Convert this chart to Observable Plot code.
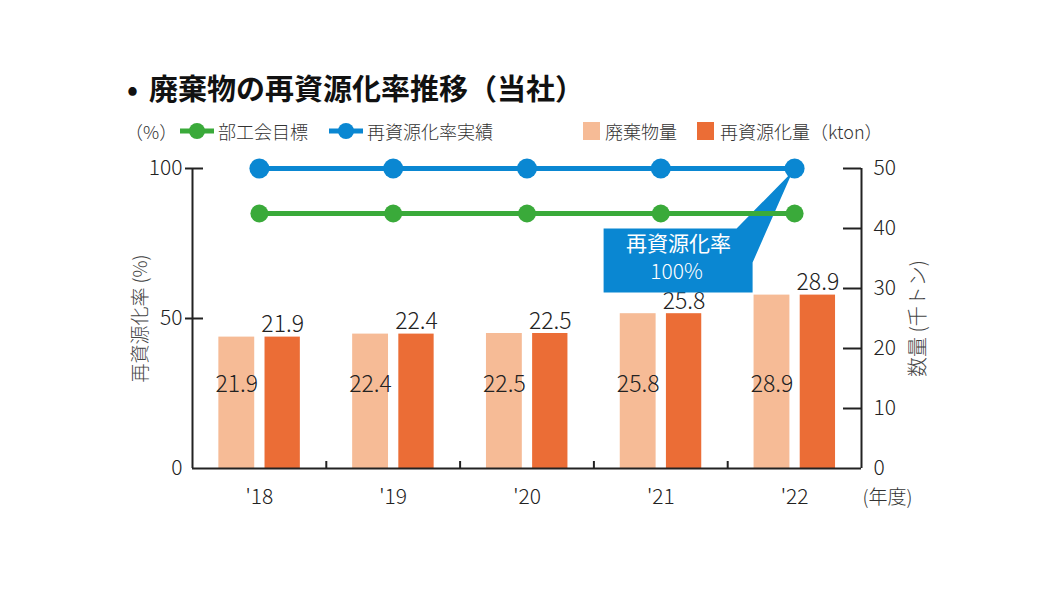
<!DOCTYPE html>
<html><head><meta charset="utf-8">
<script src="https://cdn.jsdelivr.net/npm/d3@7"></script>
<script src="https://cdn.jsdelivr.net/npm/@observablehq/plot@0.6"></script>
<style>
body{margin:0;background:#fff;font-family:"Noto Sans CJK JP","Noto Sans",sans-serif;}
#wrap{position:relative;width:1050px;height:590px;overflow:hidden;background:#fff;}
.abs{position:absolute;white-space:nowrap;line-height:1;}
.lg{font-size:18px;color:#333;top:122px;font-weight:300;}
#chart{position:absolute;left:0;top:150px;}
</style></head><body>
<div id="wrap">
  <div class="abs" style="left:127px;top:73px;font-size:29px;font-weight:700;color:#111;">•</div>
  <div class="abs" id="title" style="left:149px;top:73px;font-size:29px;font-weight:700;color:#111;"></div>
  <div id="legend"></div>
  <div id="chart"></div>
</div>
<script>
// ---- data ----
const titleText = "廃棄物の再資源化率推移（当社）";
const years = [2018, 2019, 2020, 2021, 2022];
const yearLabels = ["'18", "'19", "'20", "'21", "'22"];
const wasteAmount = [21.9, 22.4, 22.5, 25.8, 28.9];      // 廃棄物量 (kton)
const recycledAmount = [21.9, 22.4, 22.5, 25.8, 28.9];   // 再資源化量 (kton)
const recycleRate = [100, 100, 100, 100, 100];           // 再資源化率実績 (%)
const targetRate = [85, 85, 85, 85, 85];                 // 部工会目標 (%)
const leftTicks = [0, 50, 100];
const rightTicks = [0, 10, 20, 30, 40, 50];
const seriesNames = ["部工会目標", "再資源化率実績", "廃棄物量", "再資源化量（kton）"];
const leftTitle = "再資源化率 (%)";
const rightTitle = "数量 (千トン)";
const unitLabel = "(年度)";
const calloutTitle = "再資源化率";

// ---- colors ----
const GREEN = "#3aaa3a", BLUE = "#0a87d2", LIGHT = "#f6bb96", DARK = "#eb6d36", INK = "#222";
const LIGHTW = 300;

document.getElementById("title").textContent = titleText;

// legend (HTML)
const lg = document.getElementById("legend");
function addText(left, txt){ const d=document.createElement("div"); d.className="abs lg"; d.style.left=left+"px"; d.textContent=txt; lg.appendChild(d); }
function addLineIcon(left, color){
  const s=document.createElementNS("http://www.w3.org/2000/svg","svg");
  s.setAttribute("width",34); s.setAttribute("height",20);
  s.style.position="absolute"; s.style.left=left+"px"; s.style.top="121px";
  s.innerHTML=`<line x1="0" x2="34" y1="10" y2="10" stroke="${color}" stroke-width="5"/><circle cx="17" cy="10" r="8" fill="${color}"/>`;
  lg.appendChild(s);
}
function addSwatch(left, color){ const d=document.createElement("div"); d.className="abs"; Object.assign(d.style,{left:left+"px",top:"122px",width:"17px",height:"18px",background:color}); lg.appendChild(d); }
addText(125, "（%）");
addLineIcon(180, GREEN); addText(218, seriesNames[0]);
addLineIcon(329, BLUE); addText(367, seriesNames[1]);
addSwatch(583, LIGHT); addText(605, seriesNames[2]);
addSwatch(697, DARK); addText(720, seriesNames[3]);

// ---- chart ----
const k = leftTicks[leftTicks.length-1] / rightTicks[rightTicks.length-1]; // kton -> % scale
const x0 = years[0] - 0.5, x1 = years[years.length-1] + 0.5;
const idx = years.map((_, i) => i);
const last = years.length - 1;

const calloutSymbol = {
  draw(ctx){
    ctx.moveTo(-191, 60); ctx.lineTo(-58, 60); ctx.lineTo(-2, 3);
    ctx.lineTo(-42, 94); ctx.lineTo(-42, 124); ctx.lineTo(-191, 124); ctx.closePath();
  }
};

const chart = Plot.plot({
  width: 1050, height: 440,
  marginLeft: 192, marginRight: 189, marginTop: 18, marginBottom: 122,
  x: {domain: [x0, x1], axis: null},
  y: {domain: [0, 100], axis: null},
  style: {fontFamily: '"Noto Sans CJK JP","Noto Sans",sans-serif', fontSize: "20px", color: INK, background: "transparent", overflow: "visible"},
  marks: [
    Plot.rect(idx, {x1: i => years[i] - 0.303, x2: i => years[i] - 0.035, y1: () => 0, y2: i => wasteAmount[i] * k, fill: LIGHT}),
    Plot.rect(idx, {x1: i => years[i] + 0.042, x2: i => years[i] + 0.306, y1: () => 0, y2: i => recycledAmount[i] * k, fill: DARK}),
    Plot.text(idx, {x: i => years[i] - 0.169, y: () => 0, dy: -84, text: i => wasteAmount[i].toFixed(1), fontSize: 23, fontWeight: LIGHTW, fill: INK}),
    Plot.text(idx, {x: i => years[i] + 0.174, y: i => recycledAmount[i] * k, dy: -12, text: i => recycledAmount[i].toFixed(1), fontSize: 23, fontWeight: LIGHTW, fill: INK}),
    // axes lines
    Plot.ruleY([0], {y: d => d, stroke: INK, strokeWidth: 2}),
    Plot.ruleX([x0, x1], {x: d => d, y1: () => 0, y2: () => 100, stroke: INK, strokeWidth: 2}),
    Plot.ruleY(leftTicks.slice(1), {y: d => d, insetLeft: -7, insetRight: 658, stroke: INK, strokeWidth: 2}),
    Plot.ruleY(rightTicks.slice(1), {y: d => d * k, insetLeft: 651, insetRight: 0, stroke: INK, strokeWidth: 2}),
    Plot.ruleX(years.slice(1).map(y => y - 0.5), {x: d => d, insetTop: 293, stroke: INK, strokeWidth: 2}),
    // tick labels
    Plot.text(leftTicks, {x: () => x0, y: d => d, dx: -10, textAnchor: "end", text: d => String(d), fontSize: 21, fontWeight: LIGHTW, fill: INK}),
    Plot.text(rightTicks, {x: () => x1, y: d => d * k, dx: 12, textAnchor: "start", text: d => String(d), fontSize: 21, fontWeight: LIGHTW, fill: INK}),
    Plot.text(idx, {x: i => years[i], y: () => 0, dy: 29, text: i => yearLabels[i], fontSize: 21, fontWeight: LIGHTW, fill: INK}),
    Plot.text([unitLabel], {x: () => x1, y: () => 0, dy: 29, dx: 1, textAnchor: "start", text: d => d, fontSize: 19, fontWeight: LIGHTW, fill: "#333"}),
    Plot.text([leftTitle], {x: () => x0, y: () => 50, dx: -52, rotate: -90, text: d => d, fontSize: 19, fontWeight: LIGHTW, fill: "#444"}),
    Plot.text([rightTitle], {x: () => x1, y: () => 50, dx: 57, rotate: -90, text: d => d, fontSize: 20, fontWeight: LIGHTW, fill: "#444"}),
    // callout
    Plot.dot([last], {x: i => years[i], y: i => recycleRate[i], symbol: calloutSymbol, fill: BLUE, r: 3}),
    Plot.text([calloutTitle], {x: () => years[last], y: () => recycleRate[last], dx: -116, dy: 76, text: d => d, fill: "#fff", fontSize: 21}),
    Plot.text([recycleRate[last] + "%"], {x: () => years[last], y: () => recycleRate[last], dx: -118, dy: 104, text: d => d, fill: "#fff", fontSize: 21, fontWeight: LIGHTW}),
    // lines
    Plot.line(idx, {x: i => years[i], y: i => targetRate[i], stroke: GREEN, strokeWidth: 5}),
    Plot.dot(idx, {x: i => years[i], y: i => targetRate[i], r: 9, fill: GREEN}),
    Plot.line(idx, {x: i => years[i], y: i => recycleRate[i], stroke: BLUE, strokeWidth: 5}),
    Plot.dot(idx, {x: i => years[i], y: i => recycleRate[i], r: 10, fill: BLUE})
  ]
});
document.getElementById("chart").appendChild(chart);
</script>
</body></html>
